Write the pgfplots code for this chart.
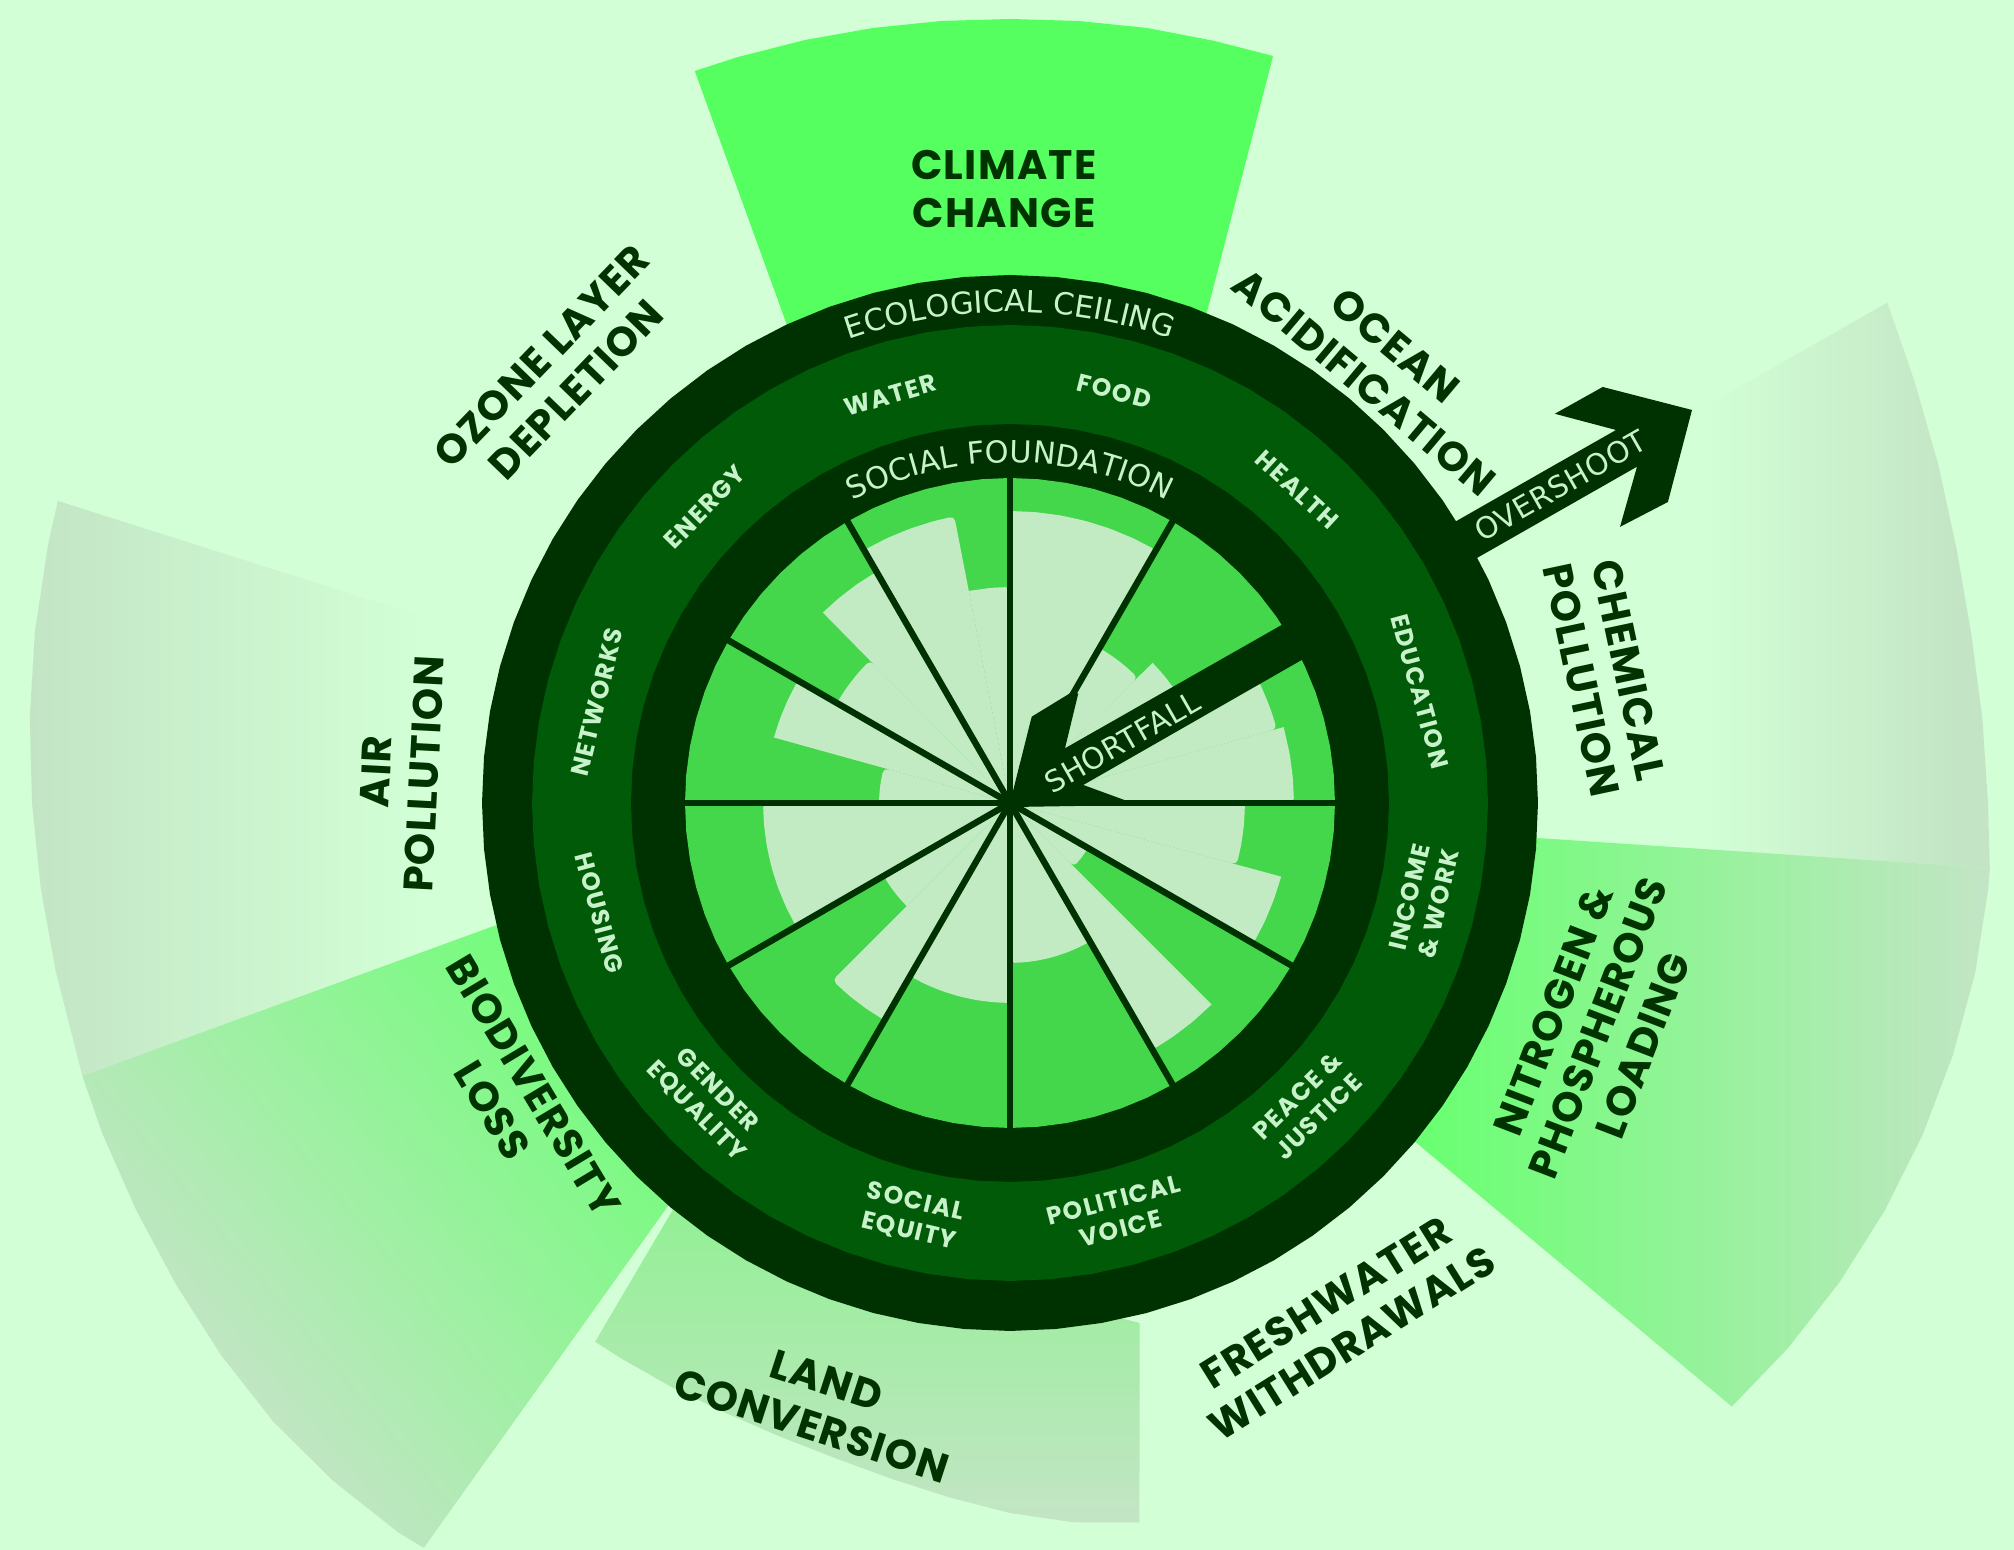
\documentclass[border=0pt]{standalone}
\usepackage{pgfplots}
\pgfplotsset{compat=1.18}
\usepackage{pgfplotstable}
\usepackage{fontspec}
\usetikzlibrary{decorations.text}
\setmainfont{DejaVu Sans}
\newfontfamily\labfont{Poppins}[LetterSpace=3]
\newfontfamily\midfont{Poppins}[LetterSpace=6]
\newfontfamily\thinfont{DejaVu Sans}[LetterSpace=2]

\definecolor{bgc}{HTML}{D2FFD5}
\definecolor{darkc}{HTML}{003100}
\definecolor{midc}{HTML}{005A08}
\definecolor{piec}{HTML}{44D64B}
\definecolor{fallc}{HTML}{C2EBC4}
\definecolor{climc}{HTML}{55FF5F}
\definecolor{brightgr}{HTML}{6AFF72}
\definecolor{graygr}{HTML}{C3E5C5}
\definecolor{landtop}{HTML}{92F094}
\definecolor{lightt}{HTML}{C8F2C9}
\definecolor{labc}{HTML}{003300}

\pgfdeclarehorizontalshading{airshade}{100bp}{color(0bp)=(graygr); color(25bp)=(graygr); color(64bp)=(bgc); color(100bp)=(bgc)}
\pgfdeclarehorizontalshading{chemshade}{100bp}{color(0bp)=(bgc); color(49bp)=(bgc); color(72bp)=(graygr); color(100bp)=(graygr)}
\pgfdeclarehorizontalshading{nitroshade}{100bp}{color(0bp)=(brightgr); color(28bp)=(brightgr); color(75bp)=(graygr); color(100bp)=(graygr)}
\pgfdeclareverticalshading{landshade}{100bp}{color(0bp)=(graygr); color(25bp)=(graygr); color(75bp)=(landtop); color(100bp)=(landtop)}
\pgfdeclareverticalshading{biodshade}{100bp}{color(0bp)=(graygr); color(32bp)=(graygr); color(80bp)=(brightgr); color(100bp)=(brightgr)}

% rings: angle, radius of each boundary (full-size px)
\pgfplotstableread{
a r1 r2 r3 r4
0 528 478 379 325
5 528 478 379 325
10 528 478 379 325
15 528 478 379 325
20 528 478 379 325
25 528 478 379 325
30 528 478 379 325
35 528 478 379 325
40 528 478 379 325
45 528 478 379 325
50 528 478 379 325
55 528 478 379 325
60 528 478 379 325
65 528 478 379 325
70 528 478 379 325
75 528 478 379 325
80 528 478 379 325
85 528 478 379 325
90 528 478 379 325
95 528 478 379 325
100 528 478 379 325
105 528 478 379 325
110 528 478 379 325
115 528 478 379 325
120 528 478 379 325
125 528 478 379 325
130 528 478 379 325
135 528 478 379 325
140 528 478 379 325
145 528 478 379 325
150 528 478 379 325
155 528 478 379 325
160 528 478 379 325
165 528 478 379 325
170 528 478 379 325
175 528 478 379 325
180 528 478 379 325
185 528 478 379 325
190 528 478 379 325
195 528 478 379 325
200 528 478 379 325
205 528 478 379 325
210 528 478 379 325
215 528 478 379 325
220 528 478 379 325
225 528 478 379 325
230 528 478 379 325
235 528 478 379 325
240 528 478 379 325
245 528 478 379 325
250 528 478 379 325
255 528 478 379 325
260 528 478 379 325
265 528 478 379 325
270 528 478 379 325
275 528 478 379 325
280 528 478 379 325
285 528 478 379 325
290 528 478 379 325
295 528 478 379 325
300 528 478 379 325
305 528 478 379 325
310 528 478 379 325
315 528 478 379 325
320 528 478 379 325
325 528 478 379 325
330 528 478 379 325
335 528 478 379 325
340 528 478 379 325
345 528 478 379 325
350 528 478 379 325
355 528 478 379 325
360 528 478 379 325
}\ringtab

\begin{document}
\begin{tikzpicture}
\begin{axis}[
  x=0.25pt, y=0.25pt,
  xmin=-1010, xmax=1004, ymin=-747, ymax=803,
  hide axis, clip=true,
]
% background
\addplot[fill=bgc, draw=none] coordinates {(-1020,-760) (1020,-760) (1020,815) (-1020,815)};

% ecological ceiling wedges (overshoot)
\addplot[draw=none, shade, shading=airshade, data cs=polar] coordinates {
  (193,500) (196.4,967) (190,969) (185,973) (180,978) (175,984) (170,990) (165,996) (162.4,999) (162.4,500)};
\addplot[draw=none, shade, shading=biodshade, shading angle=-50, data cs=polar] coordinates {
  (-167,500) (-163.6,967) (-160,966) (-155,964) (-150,963) (-145,963) (-140,962) (-135,958) (-130,952) (-128.2,948) (-130.4,520)};
\addplot[draw=none, shade, shading=landshade, data cs=polar] coordinates {
  (-129.8,520) (-127.6,680) (-125,678) (-120,675) (-115,673) (-110,674) (-105,678) (-100,686) (-95,697) (-90,710) (-85,722) (-79.8,731) (-76,536)};
\addplot[draw=none, shade, shading=chemshade, data cs=polar] coordinates {
  (29.7,500) (29.7,1010) (25,998) (20,988) (15,980) (10,976) (5,976) (0,978) (-3.8,982) (-3.8,500)};
\addplot[draw=none, shade, shading=nitroshade, data cs=polar] coordinates {
  (-3.8,500) (-3.8,982) (-5,982) (-10,980) (-15,976) (-20,971) (-25,965) (-30,958) (-35,950) (-39.9,941) (-39.9,500)};
\addplot[fill=climc, draw=none, data cs=polar] coordinates {
  (115.3,500) (113.3,797) (110,794) (105,790) (100,787) (95,785) (90,784) (85,785) (80,787) (75,789) (70.6,792) (67.7,500)};

% rings
\addplot[fill=darkc, draw=none, data cs=polar] table[x=a, y=r1] {\ringtab};
\addplot[fill=midc, draw=none, data cs=polar] table[x=a, y=r2] {\ringtab};
\addplot[fill=darkc, draw=none, data cs=polar] table[x=a, y=r3] {\ringtab};
\addplot[fill=piec, draw=none, data cs=polar] table[x=a, y=r4] {\ringtab};

% social foundation shortfall (light part of each sector)
\pgfplotsset{fall/.style={fill=fallc, draw=none, rounded corners=1.2pt, data cs=polar}}
\addplot[fall] coordinates {(0,0) (0,284) (5,284) (10,284) (15.5,284)};
\addplot[fall] coordinates {(0,0) (15.5,277) (20,277) (25,277) (30,277)};
\addplot[fall] coordinates {(0,0) (30,200) (35,200) (40,200) (44.5,200)};
\addplot[fall] coordinates {(0,0) (44.5,179) (50,179) (55,179) (60,179)};
\addplot[fall] coordinates {(0,0) (60,292) (65,292) (70,292) (75,292) (80,292) (85,292) (90,292)};
\addplot[fall] coordinates {(0,0) (90,216) (95,216) (101,216)};
\addplot[fall] coordinates {(0,0) (101,292) (105,292) (110,292) (115,292) (120,292)};
\addplot[fall] coordinates {(0,0) (120,267) (125,267) (130,267) (134.5,267)};
\addplot[fall] coordinates {(0,0) (134.5,200) (140,200) (145,200) (150,200)};
\addplot[fall] coordinates {(0,0) (150,245) (155,245) (160,245) (164.5,245)};
\addplot[fall] coordinates {(0,0) (164.5,131) (170,131) (175,131) (180,131)};
\addplot[fall] coordinates {(0,0) (180,247) (185,247) (190,247) (195,247) (200,247) (205,247) (210,247)};
\addplot[fall] coordinates {(0,0) (210,146) (215,146) (220,146) (225,146)};
\addplot[fall] coordinates {(0,0) (225,251) (230,251) (235,251) (240,251)};
\addplot[fall] coordinates {(0,0) (240,200) (245,200) (250,200) (255,200) (260,200) (265,200) (270,200)};
\addplot[fall] coordinates {(0,0) (270,160) (275,160) (280,160) (285,160) (290,160) (295,160) (300,160)};
\addplot[fall] coordinates {(0,0) (300,285) (305,285) (310,285) (315,285)};
\addplot[fall] coordinates {(0,0) (315,90) (320,90) (325,90) (330,90)};
\addplot[fall] coordinates {(0,0) (330,281) (335,281) (340,281) (344.8,281)};
\addplot[fall] coordinates {(0,0) (344.8,235) (350,235) (355,235) (360,235)};

% sector dividers
\pgfplotsset{divider/.style={draw=darkc, line width=1.6pt, data cs=polar}}
\addplot[divider] coordinates {(0,332) (180,332)};
\addplot[divider] coordinates {(30,332) (210,332)};
\addplot[divider] coordinates {(60,332) (240,332)};
\addplot[divider] coordinates {(90,332) (270,332)};
\addplot[divider] coordinates {(120,332) (300,332)};
\addplot[divider] coordinates {(150,332) (330,332)};

% shortfall arrow
\addplot[fill=darkc, draw=none] coordinates {
  (0,0) (21.7,86.3) (60,109.7) (68.3,109.7) (55,54.7) (280.4,183) (300.4,148) (73.3,18) (128,-2) (4,-4)};
% overshoot arrow
\addplot[fill=darkc, draw=none] coordinates {
  (419.3,266.5) (606,373) (544.8,389.2) (592.7,416) (682,393) (657.9,301) (610,276.1) (627,336.3) (440.3,229.8)};

% curved ring titles
\path[decorate, decoration={text along path, text color=lightt, text align=center,
  text={|\thinfont\fontsize{7.6}{8}\selectfont|ECOLOGICAL CEILING}}]
  (axis cs:-376.1,315.6) arc[start angle=140, end angle=40, radius=122.75pt];
\path[decorate, decoration={text along path, text color=lightt, text align=center,
  text={|\thinfont\fontsize{7.6}{8}\selectfont|SOCIAL FOUNDATION}}]
  (axis cs:-294.9,170.25) arc[start angle=150, end angle=30, radius=85.125pt];

\node[rotate=29.7, text=lightt, font=\thinfont\fontsize{7.4}{8}\selectfont] at (axis cs:112,61) {SHORTFALL};
\node[rotate=29.7, text=lightt, font=\thinfont\fontsize{7.4}{8}\selectfont] at (axis cs:550.5,317.4) {OVERSHOOT};

% social foundation labels
\tikzset{mid/.style={text=lightt, align=center, inner sep=0pt, font=\midfont\bfseries\fontsize{6.2}{7.4}\selectfont}}
\node[mid, rotate=16.4] at (axis cs:-120,407.7) {WATER};
\node[mid, rotate=-14.2] at (axis cs:104.3,412) {FOOD};
\node[mid, rotate=-42.5] at (axis cs:287.1,313.3) {HEALTH};
\node[mid, rotate=-74.8] at (axis cs:410.1,111.4) {EDUCATION};
\node[mid, rotate=76.8] at (axis cs:413.8,-97.1) {INCOME\\\& WORK};
\node[mid, rotate=44.5] at (axis cs:297.9,-303.2) {PEACE \&\\JUSTICE};
\node[mid, rotate=14.6] at (axis cs:107.1,-411.3) {POLITICAL\\VOICE};
\node[mid, rotate=-13.3] at (axis cs:-97.8,-413.6) {SOCIAL\\EQUITY};
\node[mid, rotate=-45.5] at (axis cs:-303.2,-297.9) {GENDER\\EQUALITY};
\node[mid, rotate=-75] at (axis cs:-410.5,-110) {HOUSING};
\node[mid, rotate=76.3] at (axis cs:-412.9,100.7) {NETWORKS};
\node[mid, rotate=45.9] at (axis cs:-305.2,295.8) {ENERGY};

% ecological ceiling labels
\tikzset{lab/.style={text=labc, align=center, inner sep=0pt, font=\labfont\bfseries\fontsize{10.3}{12}\selectfont}}
\node[lab, rotate=0] at (axis cs:-6,614) {CLIMATE\\CHANGE};
\node[lab, rotate=-40] at (axis cs:370,439) {OCEAN\\ACIDIFICATION};
\node[lab, rotate=-78] at (axis cs:595,128) {CHEMICAL\\POLLUTION};
\node[lab, rotate=69] at (axis cs:588,-225) {NITROGEN \&\\PHOSPHEROUS\\LOADING};
\node[lab, rotate=32] at (axis cs:329,-520) {FRESHWATER\\WITHDRAWALS};
\node[lab, rotate=-18] at (axis cs:-191,-600) {LAND\\CONVERSION};
\node[lab, rotate=-59] at (axis cs:-497,-295) {BIODIVERSITY\\LOSS};
\node[lab, rotate=87] at (axis cs:-610,30) {AIR\\POLLUTION};
\node[lab, rotate=46] at (axis cs:-451,430) {OZONE LAYER\\DEPLETION};
\end{axis}
\pgfresetboundingbox
\useasboundingbox (current axis.south west) rectangle (current axis.north east);
\end{tikzpicture}
\end{document}
